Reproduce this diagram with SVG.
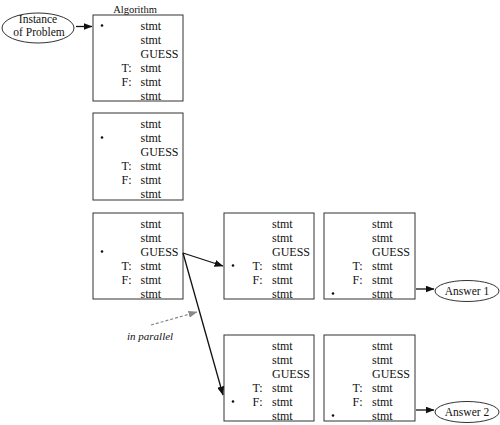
<svg xmlns="http://www.w3.org/2000/svg" width="500" height="425" viewBox="0 0 500 425">
<style>
text{font-family:"Liberation Serif","Times New Roman",serif;fill:#111;}
.t{font-size:12px;}
.e{font-size:11.5px;text-anchor:middle;}
.box{fill:#fff;stroke:#333;stroke-width:1;}
.ell{fill:#fff;stroke:#333;stroke-width:1;}
.b{fill:#111;}
.c{stroke:#111;stroke-width:1.3;fill:none;}
.d{stroke:#888;stroke-width:1.2;stroke-dasharray:3,2;fill:none;}
.it{font-size:11px;font-style:italic;}
</style>
<defs>
<marker id="ah" markerUnits="userSpaceOnUse" markerWidth="9" markerHeight="7" refX="8.5" refY="3.5" orient="auto">
<path d="M0,0 L9,3.5 L0,7 Z" fill="#111"/>
</marker>
<marker id="ahg" markerUnits="userSpaceOnUse" markerWidth="9" markerHeight="7" refX="8.5" refY="3.5" orient="auto">
<path d="M0,0 L9,3.5 L0,7 Z" fill="#888"/>
</marker>
</defs>
<rect width="500" height="425" fill="#fff"/>
<text x="135" y="13" style="font-size:10.5px;text-anchor:middle;">Algorithm</text>

<g id="instance">
<ellipse class="ell" cx="38" cy="28" rx="36" ry="15"/>
<text class="e" x="38" y="23">Instance</text>
<text class="e" x="39" y="36">of Problem</text>
</g>

<g id="box1" transform="translate(93,15)">
<rect class="box" x="0" y="0" width="90" height="86"/>
<circle class="b" cx="9" cy="10.5" r="1.3"/>
<text class="t" x="47.5" y="14.5">stmt</text>
<text class="t" x="47.5" y="28.5">stmt</text>
<text class="t" x="47.5" y="42.5">GUESS</text>
<text class="t" x="28.5" y="56.5">T:</text><text class="t" x="47.5" y="56.5">stmt</text>
<text class="t" x="28.5" y="70.5">F:</text><text class="t" x="47.5" y="70.5">stmt</text>
<text class="t" x="47.5" y="84.5">stmt</text>
</g>

<g id="box2" transform="translate(93,113)">
<rect class="box" x="0" y="0" width="90" height="87"/>
<circle class="b" cx="9" cy="24.5" r="1.3"/>
<text class="t" x="47.5" y="14.5">stmt</text>
<text class="t" x="47.5" y="28.5">stmt</text>
<text class="t" x="47.5" y="42.5">GUESS</text>
<text class="t" x="28.5" y="56.5">T:</text><text class="t" x="47.5" y="56.5">stmt</text>
<text class="t" x="28.5" y="70.5">F:</text><text class="t" x="47.5" y="70.5">stmt</text>
<text class="t" x="47.5" y="84.5">stmt</text>
</g>

<g id="box3" transform="translate(93,213)">
<rect class="box" x="0" y="0" width="90" height="86"/>
<circle class="b" cx="9" cy="38.5" r="1.3"/>
<text class="t" x="47.5" y="14.5">stmt</text>
<text class="t" x="47.5" y="28.5">stmt</text>
<text class="t" x="47.5" y="42.5">GUESS</text>
<text class="t" x="28.5" y="56.5">T:</text><text class="t" x="47.5" y="56.5">stmt</text>
<text class="t" x="28.5" y="70.5">F:</text><text class="t" x="47.5" y="70.5">stmt</text>
<text class="t" x="47.5" y="84.5">stmt</text>
</g>

<g id="box4" transform="translate(224,213)">
<rect class="box" x="0" y="0" width="90" height="86"/>
<circle class="b" cx="9" cy="52.5" r="1.3"/>
<text class="t" x="48" y="14.5">stmt</text>
<text class="t" x="48" y="28.5">stmt</text>
<text class="t" x="48" y="42.5">GUESS</text>
<text class="t" x="28.5" y="56.5">T:</text><text class="t" x="48" y="56.5">stmt</text>
<text class="t" x="28.5" y="70.5">F:</text><text class="t" x="48" y="70.5">stmt</text>
<text class="t" x="48" y="84.5">stmt</text>
</g>

<g id="box5" transform="translate(324,213)">
<rect class="box" x="0" y="0" width="91" height="86"/>
<circle class="b" cx="9" cy="80.5" r="1.3"/>
<text class="t" x="48" y="14.5">stmt</text>
<text class="t" x="48" y="28.5">stmt</text>
<text class="t" x="48" y="42.5">GUESS</text>
<text class="t" x="28.5" y="56.5">T:</text><text class="t" x="48" y="56.5">stmt</text>
<text class="t" x="28.5" y="70.5">F:</text><text class="t" x="48" y="70.5">stmt</text>
<text class="t" x="48" y="84.5">stmt</text>
</g>

<g id="box6" transform="translate(224,335)">
<rect class="box" x="0" y="0" width="90" height="86"/>
<circle class="b" cx="9" cy="66.5" r="1.3"/>
<text class="t" x="48" y="14.5">stmt</text>
<text class="t" x="48" y="28.5">stmt</text>
<text class="t" x="48" y="42.5">GUESS</text>
<text class="t" x="28.5" y="56.5">T:</text><text class="t" x="48" y="56.5">stmt</text>
<text class="t" x="28.5" y="70.5">F:</text><text class="t" x="48" y="70.5">stmt</text>
<text class="t" x="48" y="84.5">stmt</text>
</g>

<g id="box7" transform="translate(324,335)">
<rect class="box" x="0" y="0" width="91" height="86"/>
<circle class="b" cx="9" cy="80.5" r="1.3"/>
<text class="t" x="48" y="14.5">stmt</text>
<text class="t" x="48" y="28.5">stmt</text>
<text class="t" x="48" y="42.5">GUESS</text>
<text class="t" x="28.5" y="56.5">T:</text><text class="t" x="48" y="56.5">stmt</text>
<text class="t" x="28.5" y="70.5">F:</text><text class="t" x="48" y="70.5">stmt</text>
<text class="t" x="48" y="84.5">stmt</text>
</g>

<g id="answer1">
<ellipse class="ell" cx="467" cy="291" rx="32" ry="10.5"/>
<text class="e" x="467" y="295">Answer 1</text>
</g>

<g id="answer2">
<ellipse class="ell" cx="467" cy="412" rx="32" ry="10.5"/>
<text class="e" x="467" y="416">Answer 2</text>
</g>

<g id="connectors">
<line class="c" x1="76" y1="26.5" x2="92" y2="26.5" marker-end="url(#ah)"/>
<line class="c" x1="183" y1="253" x2="223" y2="266" marker-end="url(#ah)"/>
<line class="c" x1="183" y1="253" x2="223" y2="395" marker-end="url(#ah)"/>
<line class="c" x1="416" y1="289" x2="434" y2="289" marker-end="url(#ah)"/>
<line class="c" x1="416" y1="410" x2="434" y2="410" marker-end="url(#ah)"/>
<line class="d" x1="151" y1="325" x2="197" y2="312" marker-end="url(#ahg)"/>
</g>
<text class="it" x="127" y="339.5">in parallel</text>
</svg>
